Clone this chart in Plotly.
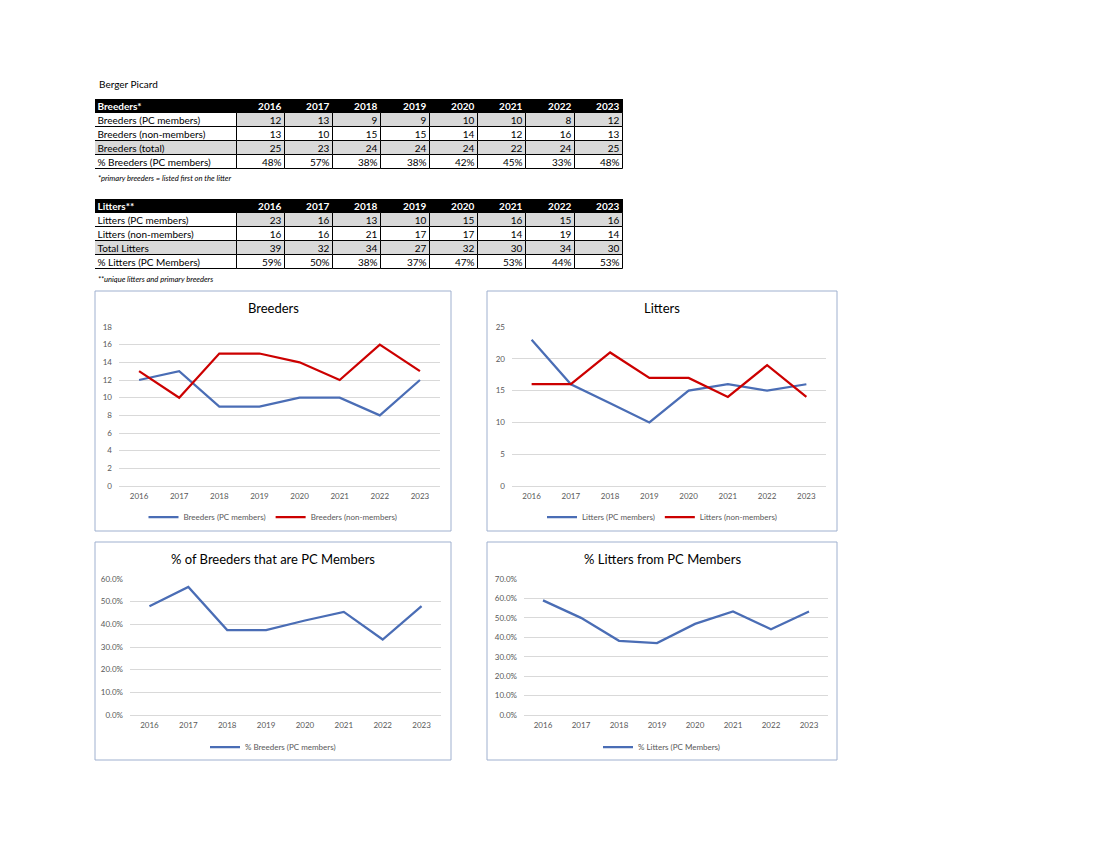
import plotly.graph_objects as go

years = ["2016", "2017", "2018", "2019", "2020", "2021", "2022", "2023"]

breeder_rows = ["Breeders (PC members)", "Breeders (non-members)", "Breeders (total)", "% Breeders (PC members)"]
breeders_pc = [12, 13, 9, 9, 10, 10, 8, 12]
breeders_non = [13, 10, 15, 15, 14, 12, 16, 13]
breeders_total = [25, 23, 24, 24, 24, 22, 24, 25]
breeders_pct_label = ["48%", "57%", "38%", "38%", "42%", "45%", "33%", "48%"]
breeders_pct = [0.480, 0.565, 0.375, 0.375, 0.417, 0.455, 0.333, 0.480]

litter_rows = ["Litters (PC members)", "Litters (non-members)", "Total Litters", "% Litters (PC Members)"]
litters_pc = [23, 16, 13, 10, 15, 16, 15, 16]
litters_non = [16, 16, 21, 17, 17, 14, 19, 14]
litters_total = [39, 32, 34, 27, 32, 30, 34, 30]
litters_pct_label = ["59%", "50%", "38%", "37%", "47%", "53%", "44%", "53%"]
litters_pct = [0.590, 0.500, 0.382, 0.370, 0.469, 0.533, 0.441, 0.533]

W, H = 1100, 850
FONT = "Lato"
BLUE = "#4a6db5"
RED = "#cc0000"
GREY = "#d9d9d9"
GRID = "#d9d9d9"
TICK = "#595959"

# table geometry (style, not data)
COL_W = [141.5] + [48.3] * len(years)
COL_LEFT = [sum(COL_W[:j]) for j in range(len(COL_W))]
TABLE_W = sum(COL_W)


def px(v):
    return v / W


def py(v):
    return 1 - v / H


fig = go.Figure()


def add_table(header_label, row_labels, pc, non, total, pct_label, xa, ya):
    header = [header_label] + years
    cols = [row_labels] + [[str(pc[i]), str(non[i]), str(total[i]), pct_label[i]] for i in range(len(years))]
    fills = [["white", "white", GREY, "white"]] + [[GREY, "white", GREY, "white"] for _ in years]
    row_idx = list(range(5))
    for j in range(len(cols)):
        texts = ["<b>" + header[j] + "</b>"] + [str(v) for v in cols[j]]
        fig.add_trace(go.Bar(
            x=[COL_W[j]] * 5, y=row_idx, base=COL_LEFT[j], orientation="h", width=1,
            marker=dict(color=["black"] + fills[j], line=dict(color="black", width=1)),
            text=texts, textposition="inside", textangle=0,
            insidetextanchor="start" if j == 0 else "end",
            textfont=dict(size=10, family=FONT, color=["white"] + ["black"] * 4),
            cliponaxis=False, showlegend=False, hoverinfo="skip",
            xaxis=xa, yaxis=ya,
        ))


add_table("Breeders*", breeder_rows, breeders_pc, breeders_non, breeders_total, breeders_pct_label, "x5", "y5")
add_table("Litters**", litter_rows, litters_pc, litters_non, litters_total, litters_pct_label, "x6", "y6")

# chart traces
fig.add_trace(go.Scatter(x=years, y=breeders_pc, mode="lines", name="Breeders (PC members)",
                         line=dict(color=BLUE, width=2.25), xaxis="x", yaxis="y", legend="legend"))
fig.add_trace(go.Scatter(x=years, y=breeders_non, mode="lines", name="Breeders (non-members)",
                         line=dict(color=RED, width=2.25), xaxis="x", yaxis="y", legend="legend"))
fig.add_trace(go.Scatter(x=years, y=litters_pc, mode="lines", name="Litters (PC members)",
                         line=dict(color=BLUE, width=2.25), xaxis="x2", yaxis="y2", legend="legend2"))
fig.add_trace(go.Scatter(x=years, y=litters_non, mode="lines", name="Litters (non-members)",
                         line=dict(color=RED, width=2.25), xaxis="x2", yaxis="y2", legend="legend2"))
fig.add_trace(go.Scatter(x=years, y=breeders_pct, mode="lines", name="% Breeders (PC members)",
                         line=dict(color=BLUE, width=2.25), xaxis="x3", yaxis="y3", legend="legend3",
                         showlegend=True))
fig.add_trace(go.Scatter(x=years, y=litters_pct, mode="lines", name="% Litters (PC Members)",
                         line=dict(color=BLUE, width=2.25), xaxis="x4", yaxis="y4", legend="legend4",
                         showlegend=True))

charts = [
    ("xaxis", "yaxis", 119, 440, 327, 486, [0, 18], 2, None, (95, 451, 291, 531), "Breeders", 308, 517),
    ("xaxis2", "yaxis2", 512, 826, 327, 486, [0, 25], 5, None, (487, 837, 291, 531), "Litters", 308, 517),
    ("xaxis3", "yaxis3", 130, 441, 579, 715, [0, 0.6], 0.1, ".1%", (95, 451, 542, 760),
     "% of Breeders that are PC Members", 559, 747),
    ("xaxis4", "yaxis4", 524, 828, 579, 715, [0, 0.7], 0.1, ".1%", (487, 837, 542, 760),
     "% Litters from PC Members", 559, 747),
]

layout = dict(
    width=W, height=H, margin=dict(l=0, r=0, t=0, b=0, pad=0, autoexpand=False),
    autosize=False,
    paper_bgcolor="white", plot_bgcolor="rgba(0,0,0,0)",
    font=dict(family=FONT, color="black"),
    barmode="overlay", bargap=0,
    uniformtext=dict(minsize=10, mode="show"),
    shapes=[], annotations=[],
)

legend_keys = ["legend", "legend2", "legend3", "legend4"]
for i, (xk, yk, x0, x1, yt, yb, rng, dt, fmt, box, title, ty, ly) in enumerate(charts):
    anchor_y = "y" if i == 0 else "y%d" % (i + 1)
    anchor_x = "x" if i == 0 else "x%d" % (i + 1)
    layout[xk] = dict(domain=[px(x0), px(x1)], anchor=anchor_y, type="category", automargin=False,
                      range=[-0.5, 7.5], showgrid=False, showline=False, zeroline=False,
                      ticks="", tickfont=dict(size=8, color=TICK, family=FONT), ticklabelstandoff=4)
    ya = dict(domain=[py(yb), py(yt)], anchor=anchor_x, range=rng, dtick=dt, tick0=0, automargin=False,
              showgrid=True, gridcolor=GRID, gridwidth=1, zeroline=True, zerolinecolor=GRID,
              zerolinewidth=1, showline=False, ticks="",
              tickfont=dict(size=8, color=TICK, family=FONT), ticklabelstandoff=6)
    if fmt:
        ya["tickformat"] = fmt
    layout[yk] = ya
    bx0, bx1, by0, by1 = box
    layout["shapes"].append(dict(type="rect", xref="paper", yref="paper",
                                 x0=px(bx0), x1=px(bx1), y0=py(by1), y1=py(by0),
                                 line=dict(color="#9fb0cf", width=1), fillcolor="rgba(0,0,0,0)"))
    layout["annotations"].append(dict(text=title, xref="paper", yref="paper",
                                      x=px((bx0 + bx1) / 2), y=py(ty), xanchor="center", yanchor="middle",
                                      showarrow=False, font=dict(size=13, color="black", family=FONT)))
    layout[legend_keys[i]] = dict(orientation="h", x=px((bx0 + bx1) / 2), y=py(ly),
                                  xanchor="center", yanchor="middle", xref="paper", yref="paper",
                                  font=dict(size=8, color=TICK, family=FONT), bgcolor="rgba(0,0,0,0)",
                                  itemwidth=30, tracegroupgap=0)

# table axes
for k, (top, bottom) in zip([5, 6], [(99, 169), (199, 269)]):
    layout["xaxis%d" % k] = dict(domain=[px(95), px(95 + TABLE_W)], anchor="y%d" % k, automargin=False,
                                 range=[0, TABLE_W], visible=False, fixedrange=True)
    layout["yaxis%d" % k] = dict(domain=[py(bottom), py(top)], anchor="x%d" % k, automargin=False,
                                 range=[4.5, -0.5], visible=False, fixedrange=True)

layout["annotations"] += [
    dict(text="Berger Picard", xref="paper", yref="paper", x=px(97), y=py(84), xanchor="left",
         yanchor="middle", showarrow=False, font=dict(size=10, color="black", family=FONT)),
    dict(text="<i>*primary breeders = listed first on the litter</i>", xref="paper", yref="paper",
         x=px(96), y=py(178), xanchor="left", yanchor="middle", showarrow=False,
         font=dict(size=7.6, color="black", family=FONT)),
    dict(text="<i>**unique litters and primary breeders</i>", xref="paper", yref="paper",
         x=px(96), y=py(279), xanchor="left", yanchor="middle", showarrow=False,
         font=dict(size=7.6, color="black", family=FONT)),
]

fig.update_layout(**layout)

POST = (
    "var gd = document.getElementById('{plot_id}');"
    "var de = document.documentElement;"
    "de.style.margin='0'; de.style.padding='0'; de.style.overflow='hidden';"
    "document.body.style.margin='0'; document.body.style.padding='0'; document.body.style.overflow='hidden';"
    "gd.style.position='absolute'; gd.style.left='0px'; gd.style.top='0px';"
)
fig.write_html("out.html", config={"displayModeBar": False}, post_script=POST)
